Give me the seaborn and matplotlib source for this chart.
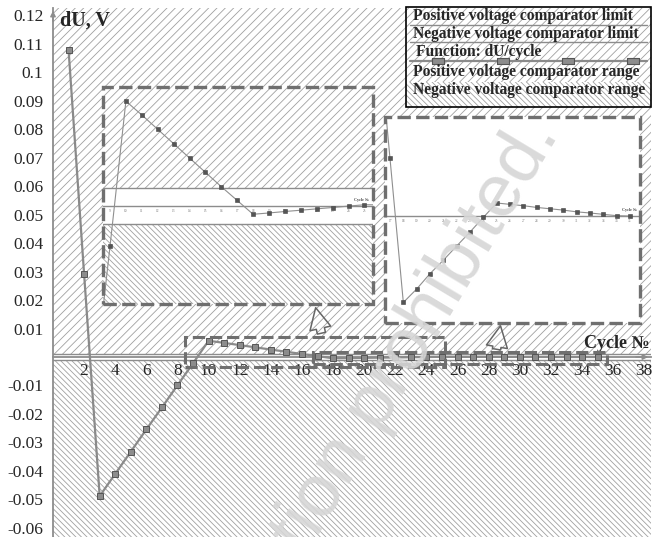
import numpy as np
import pandas as pd
import seaborn as sns
import matplotlib.pyplot as plt
from matplotlib.patches import Rectangle, FancyArrowPatch
from matplotlib.lines import Line2D

# data
cycle = list(range(1, 36))
du = [0.1078, 0.0290, -0.0488, -0.0410, -0.0332, -0.0254, -0.0177, -0.0099,
      -0.0022, 0.0057, 0.00495, 0.00417, 0.00339, 0.00261, 0.00183, 0.00105,
      0.00030, -0.00045, -0.00038, -0.00030, -0.00023, -0.000156, -0.000083,
      -0.000007, 0.000068, 0.000061, 0.000054, 0.000045, 0.000038, 0.000031,
      0.000022, 0.000016, 0.000009, 0.000002, 0.0]
comp_limit = 0.001

x_ticks = list(range(2, 39, 2))
y_ticks = [0.12, 0.11, 0.1, 0.09, 0.08, 0.07, 0.06, 0.05, 0.04, 0.03, 0.02, 0.01,
           -0.01, -0.02, -0.03, -0.04, -0.05, -0.06]
y_labels = ["0.12", "0.11", "0.1", "0.09", "0.08", "0.07", "0.06", "0.05", "0.04",
            "0.03", "0.02", "0.01", "-0.01", "-0.02", "-0.03", "-0.04", "-0.05", "-0.06"]

legend_rows = ["Positive voltage comparator limit", "Negative voltage comparator limit",
               "Function: dU/cycle", "Positive voltage comparator range",
               "Negative voltage comparator range"]

# zoomed windows (x0, x1, y0, y1)
zoom_a = (8.48, 25.2, -0.0035, 0.0070)
zoom_b = (16.7, 35.6, -0.00246, 0.00175)

sns.set_style("white")
plt.rcParams['font.family'] = ['Liberation Serif', 'DejaVu Serif']
plt.rcParams['hatch.linewidth'] = 0.6

W, H = 661, 537
GRAY = '#8a8a8a'
AXC = '#8c8c8c'
HATCH = '#a0a0a0'
DASH = '#6f6f6f'
flat_box = [(-1, -0.55), (1, -0.55), (1, 0.55), (-1, 0.55), (-1, -0.55)]


def px_box(x0, y0, x1, y1):
    return [x0 / W, 1 - y1 / H, (x1 - x0) / W, (y1 - y0) / H]


def shade(a):
    a.axhspan(comp_limit, 1, facecolor='none', edgecolor=HATCH, hatch='////', lw=0, zorder=0)
    a.axhspan(-1, -comp_limit, facecolor='none', edgecolor=HATCH, hatch='\\\\\\\\\\\\', lw=0, zorder=0)
    a.axhline(comp_limit, color=AXC, lw=1, zorder=1)
    a.axhline(-comp_limit, color=AXC, lw=1, zorder=1)


fig = plt.figure(figsize=(6.61, 5.37), dpi=100)

# ---- main chart
ax = fig.add_axes(px_box(53, 8, 651, 537))
shade(ax)
sns.lineplot(x=cycle, y=du, ax=ax, color=GRAY, lw=1.6, marker='s', markersize=4.8,
             markerfacecolor='#8c8c8c', markeredgecolor='#555555', markeredgewidth=0.7, zorder=5)
ax.set_xlim(0, 38.43)
ax.set_ylim(-0.06316, 0.12246)
for s in ['top', 'right']:
    ax.spines[s].set_visible(False)
ax.spines['left'].set_color(AXC)
ax.spines['left'].set_linewidth(1.3)
ax.spines['bottom'].set_position(('data', 0))
ax.spines['bottom'].set_color(AXC)
ax.spines['bottom'].set_linewidth(1.3)
ax.set_xticks(x_ticks)
ax.set_xticklabels([str(v) for v in x_ticks])
ax.set_yticks(y_ticks)
ax.set_yticklabels(y_labels)
ax.tick_params(axis='x', direction='inout', length=6, width=0.8, color=AXC, pad=1, labelsize=12.5)
ax.tick_params(axis='y', direction='out', length=6, width=0.8, color=AXC, pad=1, labelsize=12.5)
ax.annotate('', xy=(1.0, 0), xycoords=('axes fraction', 'data'), xytext=(0.97, 0),
            arrowprops=dict(arrowstyle='-|>', color=AXC, lw=1, mutation_scale=8))
ax.annotate('', xy=(0, 1.0), xycoords='axes fraction', xytext=(0, 0.97),
            arrowprops=dict(arrowstyle='-|>', color=AXC, lw=1, mutation_scale=8))
ax.text(0.012, 0.995, 'dU, V', transform=ax.transAxes, fontweight='bold', fontsize=14.5,
        va='top', ha='left')
ax.text(38.35, 0.0049, 'Cycle №', fontweight='bold', fontsize=13, ha='right', va='center')

dash = (0, (4, 1.6))
for zx0, zx1, zy0, zy1 in [zoom_a, zoom_b]:
    ax.add_patch(Rectangle((zx0, zy0), zx1 - zx0, zy1 - zy0, fill=False, ls=dash,
                           lw=2.2, ec=DASH, zorder=6))

arrow_style = 'simple,head_length=0.9,head_width=0.9,tail_width=0.35'
ax.add_patch(FancyArrowPatch((17.29, zoom_a[3] + 0.0004), (16.84, 0.01825), arrowstyle=arrow_style,
                             mutation_scale=17, fc='none', ec='#666666', lw=1.1, zorder=7, clip_on=False))
ax.add_patch(FancyArrowPatch((28.47, zoom_b[3]), (28.79, 0.0119), arrowstyle=arrow_style,
                             mutation_scale=17, fc='none', ec='#666666', lw=1.1, zorder=7, clip_on=False))

# ---- insets
insets = [
    (px_box(103, 87, 373, 304), (8.56, 25.54), (-0.00533, 0.00647), range(9, 26)),
    (px_box(385, 117, 640, 323), (16.625, 35.75), (-0.000557, 0.000516), range(17, 36)),
]
for box, xl, yl, tks in insets:
    ia = fig.add_axes(box)
    ia.set_facecolor('white')
    shade(ia)
    sns.lineplot(x=cycle, y=du, ax=ia, color='#8f8f8f', lw=0.8, marker='s', markersize=2.6,
                 markerfacecolor='#555555', markeredgecolor='#444444', markeredgewidth=0.4, zorder=5)
    ia.set_xlim(*xl)
    ia.set_ylim(*yl)
    for s in ['top', 'right', 'left']:
        ia.spines[s].set_visible(False)
    ia.spines['bottom'].set_position(('data', 0))
    ia.spines['bottom'].set_color(AXC)
    ia.spines['bottom'].set_linewidth(1)
    ia.set_yticks([])
    ia.set_xticks(list(tks))
    ia.set_xticklabels([str(t) for t in tks])
    ia.tick_params(axis='x', direction='inout', length=3, width=0.5, color=AXC, pad=0.5,
                   labelsize=2.5, labelcolor='#777777')
    ia.text(xl[1] - 0.25, (yl[1] - yl[0]) * 0.02, 'Cycle №', fontsize=3, ha='right', va='bottom',
            color='#444444', fontweight='bold')
    ia.add_patch(Rectangle((0, 0), 1, 1, transform=ia.transAxes, fill=False, ls=dash,
                           lw=2.4, ec=DASH, clip_on=False, zorder=10))

# ---- legend box
lg = fig.add_axes(px_box(406, 7, 651, 107))
lg.set_xlim(0, 245)
lg.set_ylim(100, 0)
lg.axis('off')
lg.add_patch(Rectangle((0, 56), 245, 19, facecolor='white', edgecolor=HATCH, hatch='////', lw=0))
lg.add_patch(Rectangle((0, 75), 245, 25, facecolor='white', edgecolor=HATCH, hatch='\\\\\\\\\\\\', lw=0))
lg.add_patch(Rectangle((0, 0), 245, 100, fill=False, ec='black', lw=1.2, clip_on=False))
row_y = [8.5, 26.5, 44.5, 64.5, 83]
row_x = [7, 7, 10, 7, 7]
for txt, ty, tx in zip(legend_rows, row_y, row_x):
    lg.text(tx, ty, txt, fontweight='bold', fontsize=11.2, va='center', ha='left')
lg.add_line(Line2D([4, 241], [17.5, 17.5], color=AXC, lw=1))
lg.add_line(Line2D([4, 241], [35, 35], color=AXC, lw=1))
lg.add_line(Line2D([4, 241], [53.5, 53.5], color=GRAY, lw=1.6))
lg.add_line(Line2D([32, 97, 162, 227], [53.5] * 4, ls='none', marker=flat_box, markersize=8.5,
                   markerfacecolor='#8c8c8c', markeredgecolor='#555555', markeredgewidth=0.8))

# ---- watermark
fig.text(560 / W, 1 - 134 / H, 'Reproduction prohibited.', family='Liberation Sans', fontsize=54,
         color='#d6d6d6', alpha=0.9, rotation=59, rotation_mode='anchor', ha='right',
         va='baseline', zorder=20)

fig.savefig('out.png', dpi=100)
